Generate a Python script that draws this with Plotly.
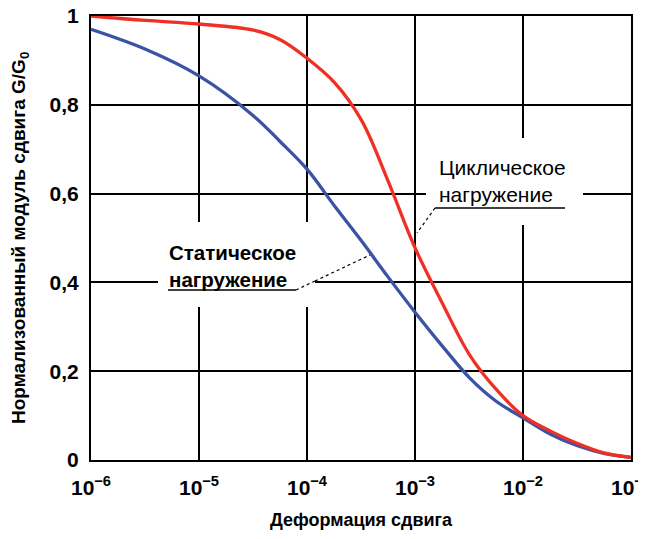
import plotly.graph_objects as go

# Shear strain values (x) and normalized shear modulus G/G0 (y)
strain = [1e-6, 3.2e-6, 1e-5, 3.2e-5, 5.6e-5, 1e-4, 1.8e-4, 3.2e-4, 5.6e-4,
          1e-3, 1.8e-3, 3.2e-3, 5.6e-3, 1e-2, 1.8e-2, 3.2e-2, 5.6e-2, 1e-1]
static_load = [0.97, 0.925, 0.865, 0.775, 0.718, 0.655, 0.572, 0.493, 0.413,
               0.333, 0.256, 0.185, 0.133, 0.095, 0.058, 0.032, 0.015, 0.006]
cyclic_load = [1.0, 0.99, 0.982, 0.968, 0.947, 0.905, 0.85, 0.765, 0.63,
               0.478, 0.352, 0.237, 0.16, 0.10, 0.065, 0.037, 0.016, 0.006]

x_tickvals = [1e-6, 1e-5, 1e-4, 1e-3, 1e-2, 1e-1]
x_ticktext = ["10<sup>−6</sup>", "10<sup>−5</sup>", "10<sup>−4</sup>",
              "10<sup>−3</sup>", "10<sup>−2</sup>", "10<sup>−1</sup>"]
y_tickvals = [0, 0.2, 0.4, 0.6, 0.8, 1.0]
y_ticktext = ["0", "0,2", "0,4", "0,6", "0,8", "1"]

RED = "#EE3124"
BLUE = "#3A53A4"
FONT = "Liberation Sans, Arial, sans-serif"

fig = go.Figure()
fig.add_trace(go.Scatter(x=strain, y=static_load, mode="lines",
                         line=dict(color=BLUE, width=3.3, shape="spline"),
                         showlegend=False, hoverinfo="skip"))
fig.add_trace(go.Scatter(x=strain, y=cyclic_load, mode="lines",
                         line=dict(color=RED, width=3.3, shape="spline"),
                         showlegend=False, hoverinfo="skip"))

# plot area in page pixels: x 91..631, y 16..460 (page body has an 8px margin)
def px(p):
    return (p - 91) / 540.0

def py(p):
    return (460 - p) / 444.0

shapes = [
    # white boxes behind labels (hide gridlines)
    dict(type="rect", xref="paper", yref="paper", x0=px(426), x1=px(583), y0=py(225), y1=py(138),
         fillcolor="white", line=dict(width=0), layer="above"),
    dict(type="rect", xref="paper", yref="paper", x0=px(158), x1=px(315), y0=py(307), y1=py(222),
         fillcolor="white", line=dict(width=0), layer="above"),
    # underlines
    dict(type="line", xref="paper", yref="paper", x0=px(435), x1=px(565), y0=py(208), y1=py(208),
         line=dict(color="black", width=1.5), layer="above"),
    dict(type="line", xref="paper", yref="paper", x0=px(168), x1=px(296), y0=py(290), y1=py(290),
         line=dict(color="black", width=1.5), layer="above"),
    # leader lines
    dict(type="line", xref="paper", yref="paper", x0=px(435), x1=px(417), y0=py(208), y1=py(233),
         line=dict(color="black", width=1.2, dash="dot"), layer="above"),
    dict(type="line", xref="paper", yref="paper", x0=px(296), x1=px(315), y0=py(290), y1=py(281),
         line=dict(color="black", width=1.2, dash="dot"), layer="above"),
    dict(type="line", xref="paper", yref="paper", x0=px(315), x1=px(370), y0=py(281), y1=py(255),
         line=dict(color="black", width=1.2, dash="dot"), layer="above"),
]

annotations = [
    dict(text="Циклическое<br>нагружение", xref="paper", yref="paper",
         x=px(437), y=py(154), xanchor="left", yanchor="top", align="left",
         showarrow=False, font=dict(family=FONT, size=21, color="black")),
    dict(text="<b>Статическое<br>нагружение</b>", xref="paper", yref="paper",
         x=px(167), y=py(239), xanchor="left", yanchor="top", align="left",
         showarrow=False, font=dict(family=FONT, size=20.5, color="black")),
    dict(text="<b>Нормализованный модуль сдвига G/G<sub>0</sub></b>", xref="paper", yref="paper",
         x=px(20), y=0.5, xanchor="center", yanchor="middle", textangle=-90,
         showarrow=False, font=dict(family=FONT, size=19, color="black")),
    dict(text="<b>Деформация сдвига</b>", xref="paper", yref="paper",
         x=0.5, y=py(520), xanchor="center", yanchor="middle",
         showarrow=False, font=dict(family=FONT, size=18, color="black")),
]

fig.update_layout(
    width=638, height=531,
    margin=dict(l=83, r=15, t=8, b=79, autoexpand=False),
    paper_bgcolor="white", plot_bgcolor="white",
    shapes=shapes, annotations=annotations,
    showlegend=False,
    font=dict(family=FONT, color="black"),
)
fig.update_xaxes(type="log", range=[-6, -1], tickvals=x_tickvals, ticktext=x_ticktext,
                 showgrid=True, gridcolor="black", gridwidth=1.5,
                 showline=True, mirror=True, linecolor="black", linewidth=2,
                 ticks="", zeroline=False, automargin=False, ticklabelstandoff=8,
                 ticklabeloverflow="allow",
                 tickfont=dict(family=FONT, size=21, color="black", weight="bold"))
fig.update_yaxes(range=[0, 1], tickvals=y_tickvals, ticktext=y_ticktext,
                 showgrid=True, gridcolor="black", gridwidth=1.5,
                 showline=True, mirror=True, linecolor="black", linewidth=2,
                 ticks="", zeroline=False, ticklabelstandoff=6, automargin=False,
                 ticklabeloverflow="allow",
                 tickfont=dict(family=FONT, size=21, color="black", weight="bold"))

fig.write_html("out.html")
